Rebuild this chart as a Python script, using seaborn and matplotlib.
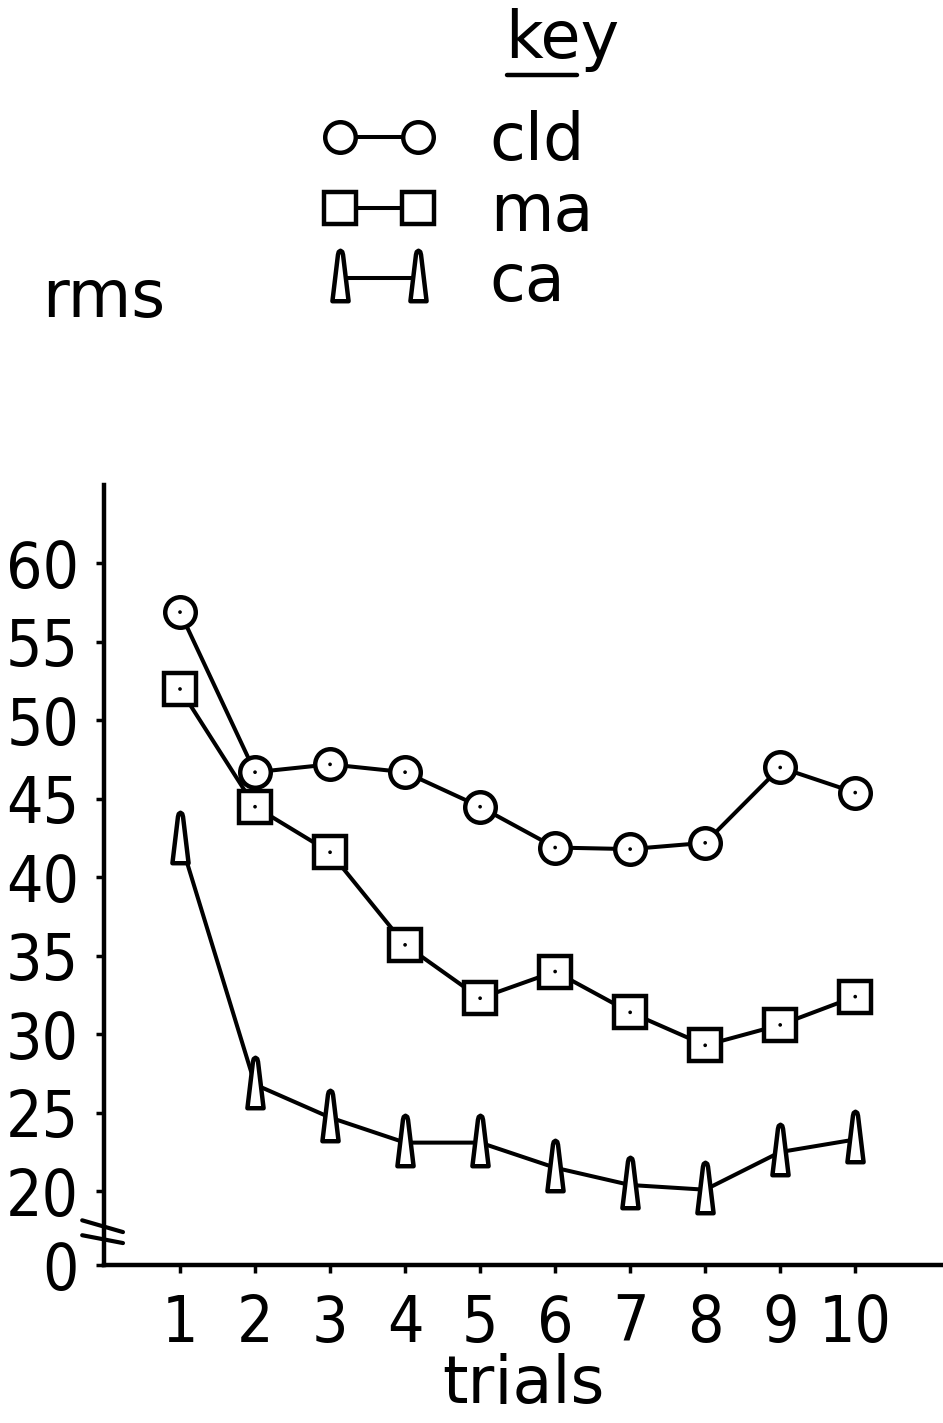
import numpy as np
import pandas as pd
import matplotlib
matplotlib.use("Agg")
import matplotlib.pyplot as plt
from matplotlib.path import Path
from matplotlib.lines import Line2D
from matplotlib import font_manager
import seaborn as sns

# ---- data -------------------------------------------------------------
trials = list(range(1, 11))
cld = [56.9, 46.7, 47.2, 46.7, 44.5, 41.9, 41.8, 42.2, 47.0, 45.4]
ma = [52.0, 44.5, 41.6, 35.7, 32.3, 34.0, 31.4, 29.3, 30.6, 32.4]
ca = [42.4, 26.8, 24.7, 23.1, 23.1, 21.5, 20.4, 20.1, 22.5, 23.3]
series_names = ["cld", "ma", "ca"]
y_ticks = [20, 25, 30, 35, 40, 45, 50, 55, 60]
y_break_label = "0"
x_label = "trials"
y_label = "rms"
key_title = "key"

# ---- style ------------------------------------------------------------
sns.set_style("ticks")
plt.rcParams["font.family"] = ["DejaVu Sans"]
for key in ["text.color", "axes.labelcolor", "xtick.color", "ytick.color",
            "axes.edgecolor"]:
    plt.rcParams[key] = "black"

# tall numerals: use the condensed cut of DejaVu Sans when it is installed
has_condensed = any(f.name == "DejaVu Sans" and f.stretch == "condensed"
                    for f in font_manager.fontManager.ttflist)
digit_stretch = "condensed" if has_condensed else "normal"
digit_size = 46 if has_condensed else 42
word_size = 47

LW = 2.9     # connecting lines
MEW = 3.2    # marker outlines

# tall, narrow cone used for the "ca" series
cone = Path([(-0.16, -0.45), (0.16, -0.45), (0.05, 0.47), (0.035, 0.525),
             (0.0, 0.55), (-0.035, 0.525), (-0.05, 0.47), (-0.16, -0.45)],
            [Path.MOVETO] + [Path.LINETO] * 6 + [Path.CLOSEPOLY])

fig = plt.figure(figsize=(9.43, 14.23), dpi=100)
ax = fig.add_axes([0.1103, 0.1110, 0.8897, 0.5482])

df = pd.DataFrame({"trial": trials, "cld": cld, "ma": ma, "ca": ca})

marker_specs = {
    "cld": dict(marker="o", ms=22),
    "ma": dict(marker="s", ms=23),
    "ca": dict(marker=cone, ms=40),
}
for name in series_names:
    sns.lineplot(data=df, x="trial", y=name, ax=ax, color="black", lw=LW,
                 mfc="white", mec="black", mew=MEW, label=name,
                 solid_joinstyle="round", solid_capstyle="round",
                 **marker_specs[name])

# small centre dots inside the circles and squares
for name in ["cld", "ma"]:
    sns.scatterplot(data=df, x="trial", y=name, ax=ax, color="black", s=7,
                    edgecolor="none", legend=False, zorder=5)

# ---- axes -------------------------------------------------------------
y_bottom, y_top = 15.3, 65.0
ax.set_xlim(-0.013, 11.17)
ax.set_ylim(y_bottom, y_top)

ax.set_xticks(trials)
ax.set_xticklabels([str(t) for t in trials])
ax.set_yticks([y_bottom] + y_ticks)
ax.set_yticklabels([y_break_label] + [str(v) for v in y_ticks])

for lab in ax.get_xticklabels() + ax.get_yticklabels():
    lab.set_fontstretch(digit_stretch)
    lab.set_fontsize(digit_size)
    lab.set_color("black")

ax.tick_params(axis="x", length=6, width=2.5, direction="out", pad=14)
ax.tick_params(axis="y", length=6, width=2.5, direction="out", pad=12)

sns.despine(ax=ax, top=True, right=True)
for side in ["left", "bottom"]:
    ax.spines[side].set_linewidth(3.2)
    ax.spines[side].set_color("black")
    ax.spines[side].set_capstyle("projecting")

ax.set_xlabel(x_label, fontsize=word_size, labelpad=-1, color="black")
ax.set_ylabel(y_label, fontsize=word_size, rotation=0, ha="center",
              va="baseline", color="black")
ax.yaxis.set_label_coords(0.0, 1.2154)

# axis-break marks across the lower y axis
ytr = ax.get_yaxis_transform()
for y0, y1 in [(18.15, 17.4), (17.2, 16.7)]:
    ax.plot([-0.026, 0.0226], [y0, y1], transform=ytr, color="black",
            lw=3.0, clip_on=False, solid_capstyle="round", zorder=6)

# ---- key --------------------------------------------------------------
handles, labels = ax.get_legend_handles_labels()
if ax.get_legend() is not None:
    ax.get_legend().remove()
leg = fig.legend(handles, labels, loc="upper left",
                 bbox_to_anchor=(320 / 943, 1 - 110 / 1423),
                 frameon=False, numpoints=2, fontsize=word_size,
                 handlelength=1.8, handletextpad=0.8, labelspacing=0.1,
                 borderpad=0, borderaxespad=0)
for t in leg.get_texts():
    t.set_color("black")

fig.text(505 / 943, 1 - 58 / 1423, key_title, fontsize=word_size,
         ha="left", va="baseline", color="black")
fig.add_artist(Line2D([507 / 943, 577 / 943], [1 - 75 / 1423] * 2,
                      transform=fig.transFigure, color="black", lw=3.2,
                      solid_capstyle="round"))

fig.savefig("out.png", dpi=100, facecolor="white")
